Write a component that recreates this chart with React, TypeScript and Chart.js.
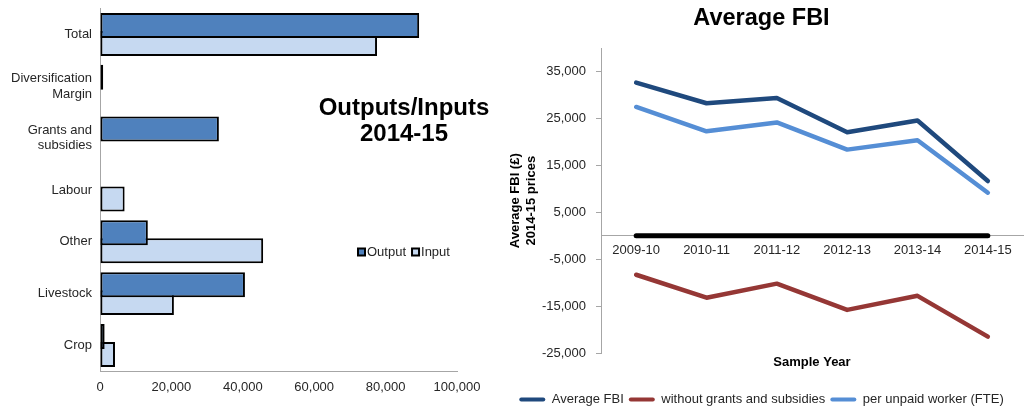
import React, { useEffect, useRef } from 'react';
import { Chart, registerables } from 'chart.js';

Chart.register(...registerables);

const FONT = "'Liberation Sans', Arial, sans-serif";
const TEXT = '#262626';
const AXIS = '#a6a6a6';

// ---- Left chart: Outputs/Inputs 2014-15 ----
const BAR_CATEGORIES = [
  ['Total'],
  ['Diversification', 'Margin'],
  ['Grants and', 'subsidies'],
  ['Labour'],
  ['Other'],
  ['Livestock'],
  ['Crop'],
];
const OUTPUT_VALUES = [89400, 900, 33300, null, 13400, 40600, 1300];
const INPUT_VALUES = [77600, null, null, 6900, 45700, 20700, 4200];
const BAR_TICKS = [0, 20000, 40000, 60000, 80000, 100000];
const BAR_TITLE = ['Outputs/Inputs', '2014-15'];

// ---- Right chart: Average FBI ----
const YEARS = ['2009-10', '2010-11', '2011-12', '2012-13', '2013-14', '2014-15'];
const AVG_FBI = [32700, 28300, 29400, 22100, 24600, 11700];
const WITHOUT_GRANTS = [-8300, -13200, -10200, -15800, -12800, -21500];
const PER_WORKER = [27500, 22300, 24200, 18400, 20400, 9200];
const ZERO_LINE = [0, 0, 0, 0, 0, 0];
const FBI_TICKS = [-25000, -15000, -5000, 5000, 15000, 25000, 35000];

const fmt = (v: any) => Number(v).toLocaleString('en-US');

const leftOverlay = {
  id: 'leftOverlay',
  afterDraw(chart: any) {
    const { ctx } = chart;
    ctx.save();
    ctx.fillStyle = '#000';
    ctx.font = `bold 24px ${FONT}`;
    ctx.textAlign = 'center';
    ctx.textBaseline = 'middle';
    BAR_TITLE.forEach((t, i) => ctx.fillText(t, 404, 108 + i * 26.5));

    ctx.font = `13px ${FONT}`;
    ctx.textAlign = 'left';
    let x = 357;
    const y = 252;
    chart.data.datasets.forEach((ds: any) => {
      ctx.fillStyle = '#000';
      ctx.fillRect(x, y - 4.5, 9, 9);
      ctx.fillStyle = ds.backgroundColor;
      ctx.fillRect(x + 2, y - 2.5, 5, 5);
      ctx.fillStyle = TEXT;
      ctx.fillText(ds.label, x + 10, y);
      x += 10 + ctx.measureText(ds.label).width + 5;
    });
    ctx.restore();
  },
};

function leftConfig(): any {
  const bar = (label: string, data: (number | null)[], color: string) => ({
    label,
    data,
    backgroundColor: color,
    borderColor: '#000',
    borderWidth: 2,
    borderSkipped: false,
    categoryPercentage: 0.694,
    barPercentage: 1.389,
  });
  return {
    type: 'bar',
    data: {
      labels: BAR_CATEGORIES,
      datasets: [bar('Output', OUTPUT_VALUES, '#4F81BD'), bar('Input', INPUT_VALUES, '#C6D9F1')],
    },
    options: {
      indexAxis: 'y',
      responsive: false,
      animation: false,
      devicePixelRatio: 1,
      events: [],
      layout: { padding: { left: 0, top: 8.5, right: 43, bottom: 7 } },
      plugins: { legend: { display: false }, tooltip: { enabled: false } },
      scales: {
        x: {
          min: 0,
          max: 100000,
          afterBuildTicks: (s: any) => {
            s.ticks = BAR_TICKS.map((v) => ({ value: v }));
          },
          ticks: {
            padding: 8,
            color: TEXT,
            font: { family: FONT, size: 13 },
            maxRotation: 0,
            callback: (v: any) => fmt(v),
          },
          grid: { drawOnChartArea: false, drawTicks: false, color: AXIS },
          border: { color: AXIS, width: 1 },
        },
        y: {
          afterFit: (s: any) => {
            s.width = 100;
            s.paddingTop = 0;
            s.paddingBottom = 0;
          },
          ticks: {
            padding: 8,
            color: TEXT,
            font: { family: FONT, size: 13 },
            autoSkip: false,
          },
          grid: { drawOnChartArea: false, drawTicks: false, color: AXIS },
          border: { color: AXIS, width: 1 },
        },
      },
    },
    plugins: [leftOverlay],
  };
}

function rightConfig(): any {
  const line = (label: string, data: number[], color: string, width: number) => ({
    label,
    data,
    borderColor: color,
    backgroundColor: color,
    borderWidth: width,
    pointRadius: 0,
    borderCapStyle: 'round',
    borderJoinStyle: 'round',
    tension: 0,
    fill: false,
  });
  return {
    type: 'line',
    data: {
      labels: YEARS,
      datasets: [
        line('Average FBI', AVG_FBI, '#1F497D', 4.5),
        line('without grants and subsidies', WITHOUT_GRANTS, '#953735', 4.5),
        line('per unpaid worker (FTE)', PER_WORKER, '#558ED5', 4.5),
        line('zero', ZERO_LINE, '#000000', 5),
      ],
    },
    options: {
      responsive: false,
      animation: false,
      devicePixelRatio: 1,
      events: [],
      layout: { padding: { left: 0, top: 0, right: 5, bottom: -6 } },
      plugins: {
        tooltip: { enabled: false },
        title: {
          display: true,
          text: 'Average FBI',
          color: '#000',
          font: { family: FONT, size: 23.5, weight: 'bold', lineHeight: 1.2 },
          padding: { top: 4, bottom: 16.2 },
        },
        legend: {
          position: 'bottom',
          labels: {
            boxWidth: 26,
            boxHeight: 4,
            padding: 5,
            color: TEXT,
            font: { family: FONT, size: 13 },
            useBorderRadius: true,
            borderRadius: 2,
            generateLabels: (chart: any) =>
              Chart.defaults.plugins.legend.labels
                .generateLabels(chart)
                .filter((l: any) => l.datasetIndex !== 3)
                .map((l: any) => ({ ...l, fillStyle: l.strokeStyle, lineWidth: 0, borderRadius: 2 })),
          },
        },
      },
      scales: {
        x: {
          type: 'category',
          position: { y: 0 },
          offset: true,
          grid: { drawOnChartArea: false, drawTicks: false, color: AXIS },
          border: { color: AXIS, width: 1 },
          ticks: {
            padding: 7,
            color: TEXT,
            font: { family: FONT, size: 13 },
            maxRotation: 0,
            autoSkip: false,
          },
        },
        x2: {
          type: 'category',
          position: 'bottom',
          grid: { display: false, drawTicks: false },
          border: { display: false },
          ticks: { display: false },
          title: {
            display: true,
            text: 'Sample Year',
            color: '#000',
            font: { family: FONT, size: 13, weight: 'bold', lineHeight: 1.2 },
            padding: { top: 1.9, bottom: 17.5 },
          },
        },
        y: {
          min: -25000,
          max: 40000,
          afterBuildTicks: (s: any) => {
            s.ticks = FBI_TICKS.map((v) => ({ value: v }));
          },
          afterFit: (s: any) => {
            s.width = 101;
          },
          grid: { drawOnChartArea: false, drawTicks: true, tickLength: 5, color: AXIS },
          border: { color: AXIS, width: 1 },
          ticks: {
            padding: 10,
            color: TEXT,
            font: { family: FONT, size: 13 },
            callback: (v: any) => fmt(v),
          },
          title: {
            display: true,
            text: ['Average FBI (£)', '2014-15 prices'],
            color: '#000',
            font: { family: FONT, size: 13, weight: 'bold', lineHeight: 1.3 },
            padding: { top: 6.5, bottom: 0 },
          },
        },
      },
    },
  };
}

function ChartCanvas({ width, height, make }: { width: number; height: number; make: () => any }) {
  const ref = useRef<HTMLCanvasElement | null>(null);
  useEffect(() => {
    const chart = new Chart(ref.current as HTMLCanvasElement, make());
    return () => chart.destroy();
  }, []);
  return <canvas ref={ref} width={width} height={height} style={{ display: 'block', width, height }} />;
}

export default function App() {
  return (
    <div
      style={{
        position: 'fixed',
        left: 0,
        top: 0,
        width: 1028,
        height: 410,
        display: 'flex',
        background: '#fff',
      }}
    >
      <ChartCanvas width={500} height={410} make={leftConfig} />
      <ChartCanvas width={528} height={410} make={rightConfig} />
    </div>
  );
}
